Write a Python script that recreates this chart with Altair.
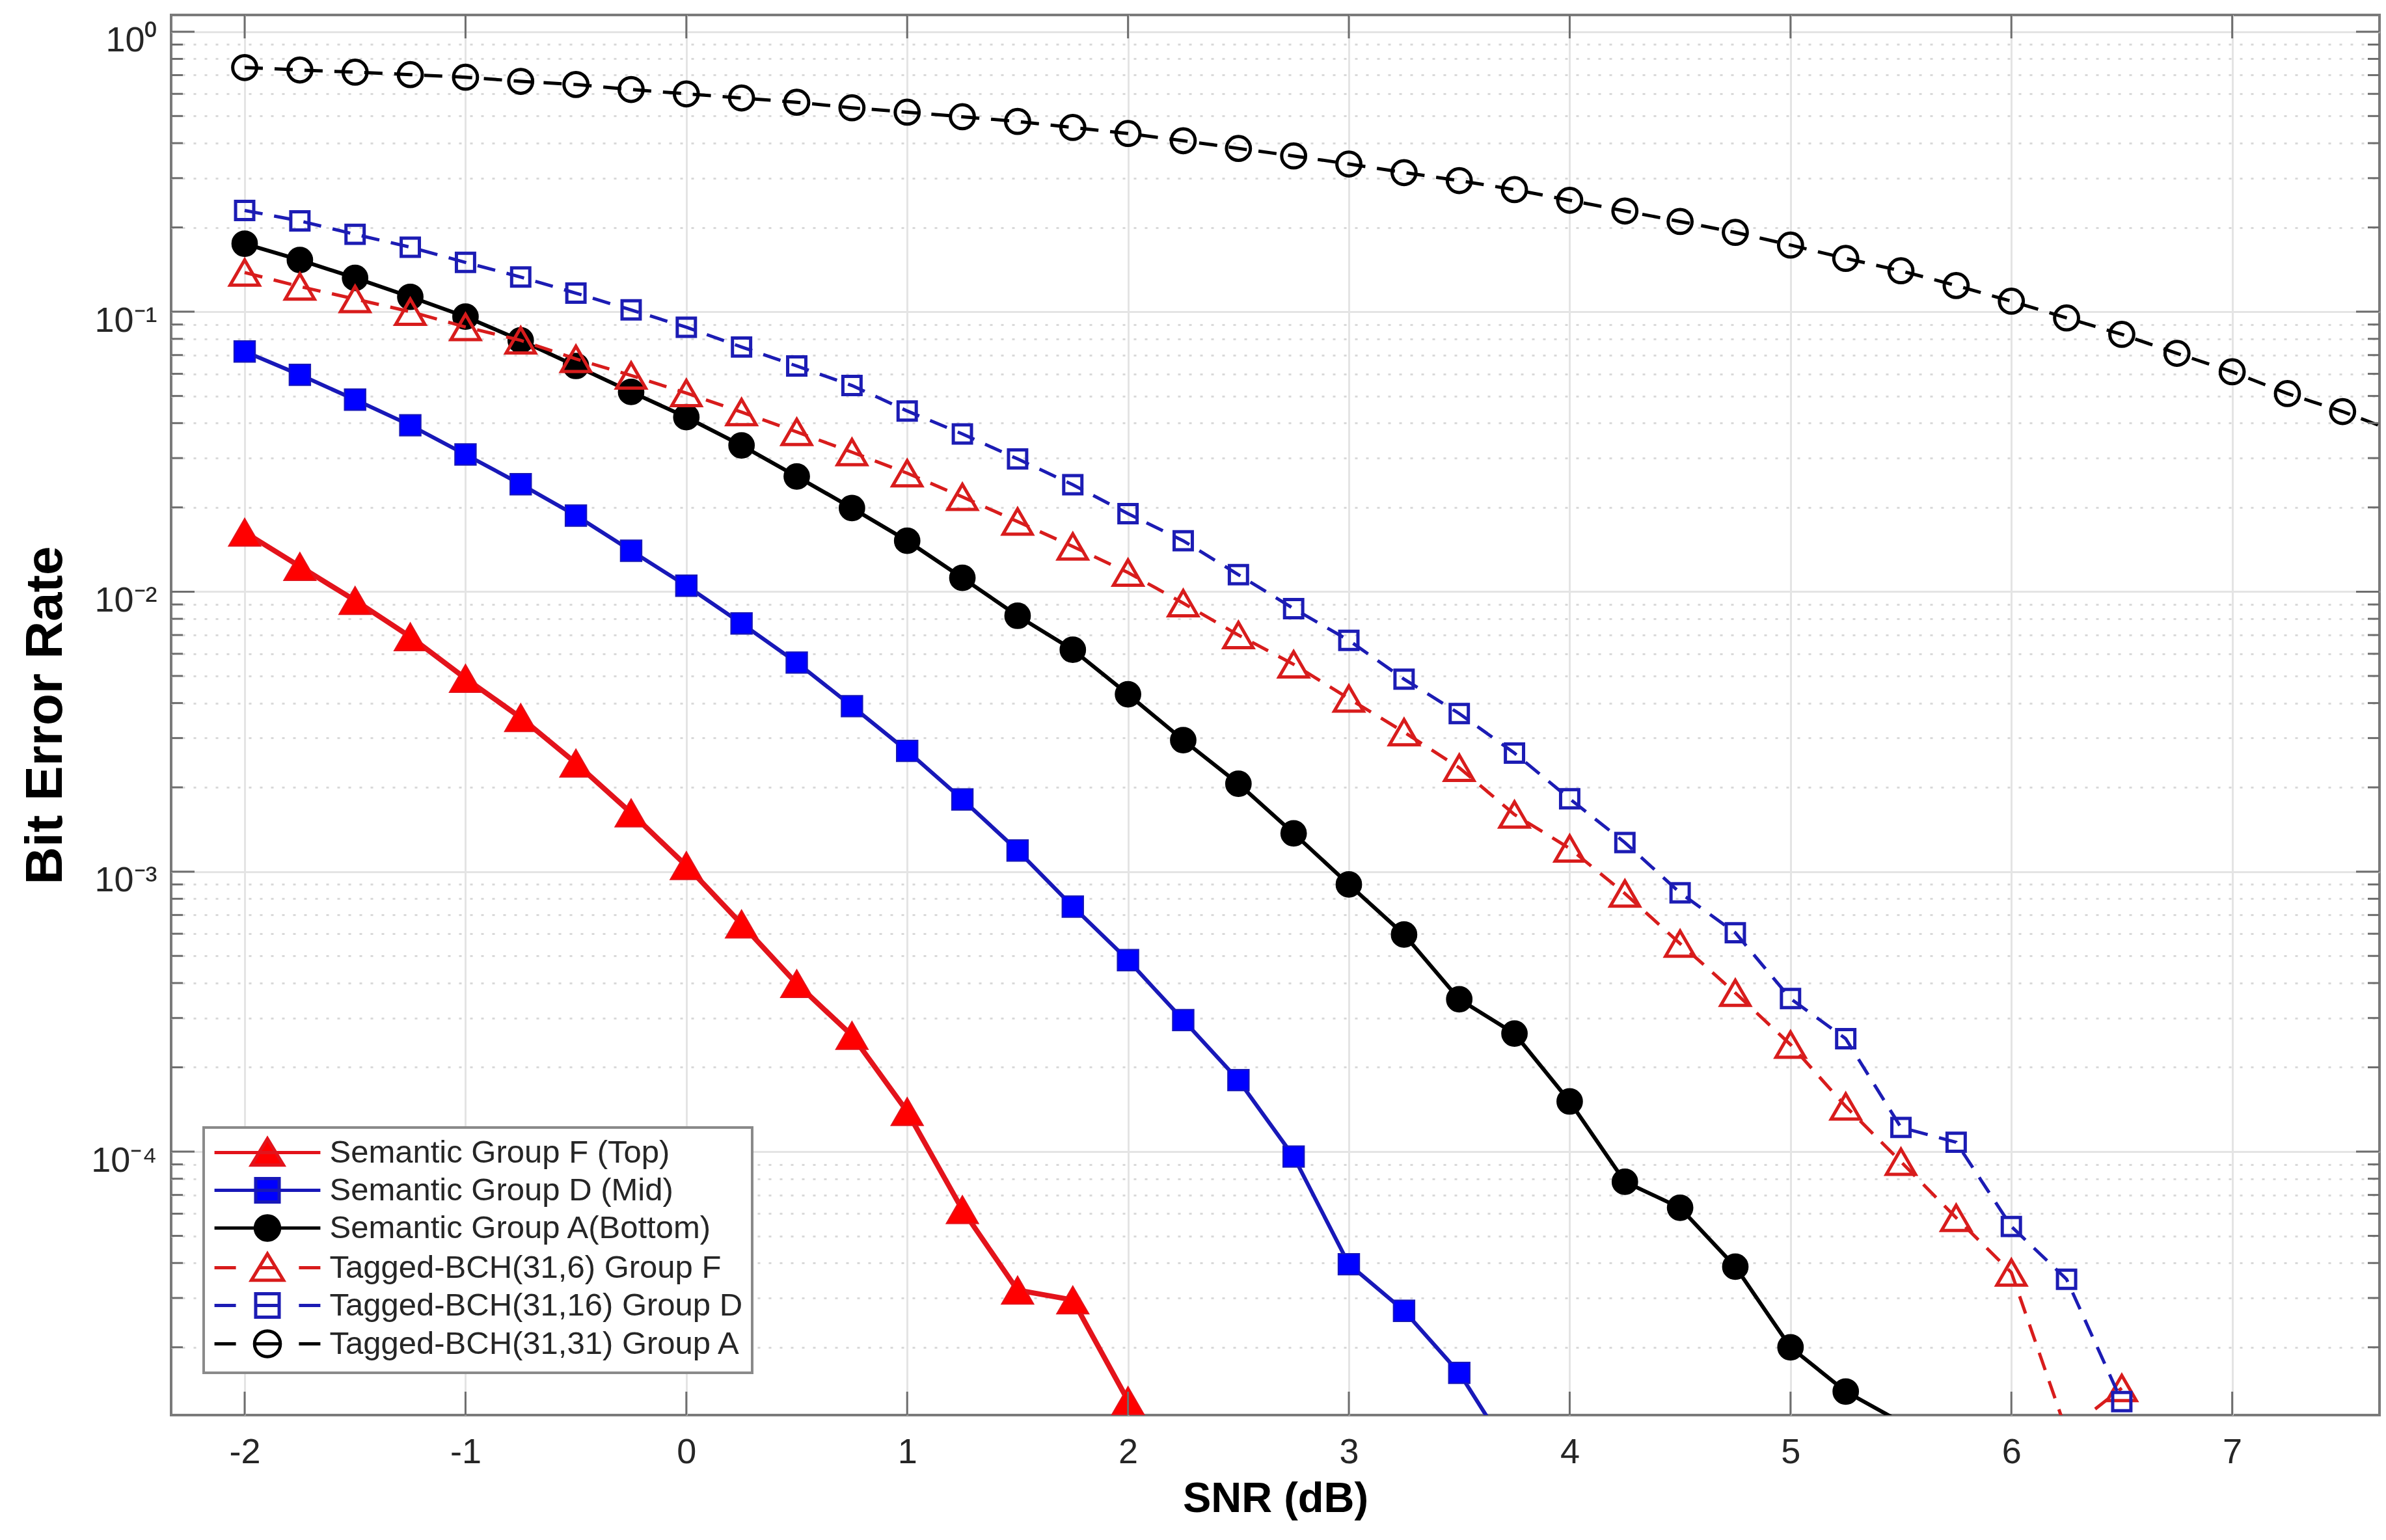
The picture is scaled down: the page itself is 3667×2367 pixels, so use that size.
import altair as alt
import pandas as pd

# ---------------- data ----------------
SNR = [-2.0, -1.75, -1.5, -1.25, -1.0, -0.75, -0.5, -0.25, 0.0, 0.25, 0.5, 0.75,
       1.0, 1.25, 1.5, 1.75, 2.0, 2.25, 2.5, 2.75, 3.0, 3.25, 3.5, 3.75, 4.0,
       4.25, 4.5, 4.75, 5.0, 5.25, 5.5, 5.75, 6.0, 6.25, 6.5, 6.75, 7.0, 7.25,
       7.5, 7.75]

SERIES = ["Semantic Group F (Top)", "Semantic Group D (Mid)", "Semantic Group A(Bottom)",
          "Tagged-BCH(31,6) Group F", "Tagged-BCH(31,16) Group D", "Tagged-BCH(31,31) Group A"]

BER_SEM_F = [0.0163, 0.0123, 0.0093, 0.0069, 0.0049, 0.00355, 0.00244, 0.00162, 0.00105,
             6.5e-4, 3.98e-4, 2.6e-4, 1.39e-4, 6.2e-5, 3.2e-5, 2.95e-5, 1.29e-5]

BER_SEM_D = [0.0721, 0.0595, 0.0485, 0.0393, 0.0309, 0.0242, 0.0187, 0.0140, 0.0105, 0.0077,
             0.00558, 0.0039, 0.0027, 0.00181, 0.00119, 7.5e-4, 4.83e-4, 2.95e-4, 1.8e-4,
             9.6e-5, 3.96e-5, 2.7e-5, 1.62e-5, 7.9e-6]

BER_SEM_A = [0.175, 0.153, 0.132, 0.113, 0.096, 0.079, 0.064, 0.0517, 0.042, 0.0333, 0.0258,
             0.0199, 0.0152, 0.0112, 0.0082, 0.0062, 0.0043, 0.00295, 0.00206, 0.00137,
             9.0e-4, 5.96e-4, 3.5e-4, 2.64e-4, 1.51e-4, 7.8e-5, 6.3e-5, 3.88e-5, 2.0e-5,
             1.39e-5, 1.08e-5]

BER_BCH_F = [0.138, 0.123, 0.111, 0.100, 0.0882, 0.0790, 0.0678, 0.0592, 0.0512, 0.0438,
             0.0372, 0.0315, 0.0265, 0.0218, 0.0178, 0.0145, 0.0117, 0.0091, 0.0070, 0.0055,
             0.00415, 0.00315, 0.00235, 0.0016, 0.00121, 8.35e-4, 5.53e-4, 3.69e-4, 2.41e-4,
             1.45e-4, 9.2e-5, 5.8e-5, 3.7e-5, 1.0e-5, 1.43e-5]

BER_BCH_D = [0.23, 0.211, 0.189, 0.170, 0.150, 0.133, 0.1165, 0.1015, 0.088, 0.0748, 0.064,
             0.0545, 0.0442, 0.0366, 0.0298, 0.0241, 0.019, 0.0152, 0.0115, 0.0087, 0.0067,
             0.00487, 0.00367, 0.00265, 0.00182, 0.00127, 8.4e-4, 6.05e-4, 3.52e-4, 2.53e-4,
             1.22e-4, 1.08e-4, 5.4e-5, 3.5e-5, 1.28e-5]

BER_BCH_A = [0.745, 0.73, 0.717, 0.703, 0.688, 0.665, 0.648, 0.622, 0.600, 0.580, 0.560,
             0.535, 0.516, 0.497, 0.478, 0.455, 0.433, 0.408, 0.383, 0.36, 0.337, 0.314,
             0.294, 0.273, 0.25, 0.229, 0.21, 0.192, 0.173, 0.155, 0.14, 0.124, 0.109,
             0.095, 0.083, 0.071, 0.061, 0.051, 0.044, 0.037]

VALUES = [BER_SEM_F, BER_SEM_D, BER_SEM_A, BER_BCH_F, BER_BCH_D, BER_BCH_A]

X_TICKS = [-2, -1, 0, 1, 2, 3, 4, 5, 6, 7]
Y_DECADES = [1e-4, 1e-3, 1e-2, 1e-1, 1.0]

# ---------------- layout / style ----------------
X_MIN, X_MAX = -2.333, 7.667
Y_MIN, Y_MAX = 1.145e-5, 1.148
W, H = 3394, 2152
FONT = "Liberation Sans"

Y_MINOR = [m * 10.0 ** k for k in range(-5, 0) for m in range(2, 10)
           if Y_MIN <= m * 10.0 ** k <= Y_MAX]
Y_ALL = sorted(Y_DECADES + Y_MINOR)

STYLE = [
    dict(line="#e3131b", fill="#ff0000", shape="triangle-up", size=2400, lw=8, dash=None, filled=True),
    dict(line="#1818b8", fill="#0000ff", shape="square", size=1050, lw=6, dash=None, filled=True),
    dict(line="#000000", fill="#000000", shape="circle", size=1500, lw=6, dash=None, filled=True),
    dict(line="#d81c1c", fill=None, shape="triangle-up", size=2000, lw=5, dash=[28, 18], filled=False),
    dict(line="#1c1cb4", fill=None, shape="square", size=780, lw=5, dash=[28, 18], filled=False),
    dict(line="#000000", fill=None, shape="circle", size=1350, lw=5, dash=[28, 18], filled=False),
]

rows = []
for name, vals in zip(SERIES, VALUES):
    for xv, yv in zip(SNR, vals):
        rows.append({"series": name, "SNR": xv, "BER": yv})
df = pd.DataFrame(rows)

x_scale = alt.Scale(domain=[X_MIN, X_MAX], nice=False, zero=False)
y_scale = alt.Scale(type="log", domain=[Y_MIN, Y_MAX], nice=False)

DEC_TEST = "abs(log(datum.value)/LN10 - round(log(datum.value)/LN10)) < 0.001"
EXP = "(''+round(log(datum.value)/LN10))"
SUP = ("replace(replace(replace(replace(replace(replace(" + EXP +
       ",'-','\u207b'),'0','\u2070'),'1','\u00b9'),'2','\u00b2'),'3','\u00b3'),'4','\u2074')")

x_axis = alt.Axis(
    values=X_TICKS, labelExpr="'' + datum.value", grid=True, gridColor="#e4e4e4", gridWidth=3,
    ticks=False, tickSize=0, domain=False, labelFont=FONT, labelFontSize=54,
    labelColor="#262626", labelBaseline="alphabetic", labelPadding=73, labelFlush=False,
    title="SNR (dB)", titleFont=FONT, titleFontSize=65, titleFontWeight="bold",
    titleColor="#000000", titleBaseline="alphabetic", titleX=W / 2, titleY=148,
)
y_axis = alt.Axis(
    values=Y_ALL, labelExpr=DEC_TEST + " ? '10' + " + SUP + " : ''",
    grid=True,
    gridColor={"condition": {"test": DEC_TEST, "value": "#e4e4e4"}, "value": "#d9d9d9"},
    gridDash={"condition": {"test": DEC_TEST, "value": []}, "value": [4, 13]},
    gridWidth=3, ticks=False, tickSize=0, domain=False, labelOverlap=False,
    labelFont=FONT, labelFontSize=54, labelColor="#262626", labelPadding=22,
    labelBaseline="alphabetic", labelOffset=30, labelFlush=False,
    title="Bit Error Rate", titleFont=FONT, titleFontSize=80, titleFontWeight="bold",
    titleColor="#000000", titleAngle=270, titleBaseline="alphabetic", titleAlign="center",
    titleX=-169, titleY=H / 2,
)

X_ENC = alt.X("SNR:Q", scale=x_scale)
Y_ENC = alt.Y("BER:Q", scale=y_scale)

layers = []
for i, (name, st) in enumerate(zip(SERIES, STYLE)):
    sub = alt.Chart(df).transform_filter(alt.datum.series == name)
    line_kw = dict(color=st["line"], strokeWidth=st["lw"], clip=True)
    if st["dash"]:
        line_kw["strokeDash"] = st["dash"]
    if i == 0:
        xe = alt.X("SNR:Q", scale=x_scale, axis=x_axis)
        ye = alt.Y("BER:Q", scale=y_scale, axis=y_axis)
    else:
        xe, ye = X_ENC, Y_ENC
    line = sub.mark_line(**line_kw).encode(x=xe, y=ye)
    if st["filled"]:
        pt_kw = dict(shape=st["shape"], size=st["size"], filled=True, fill=st["fill"],
                     stroke=st["line"], strokeWidth=2, opacity=1, clip=True)
    else:
        pt_kw = dict(shape=st["shape"], size=st["size"], filled=False, stroke=st["line"],
                     strokeWidth=st["lw"], opacity=1, clip=True)
    pts = sub.transform_filter(
        f"datum.BER >= {Y_MIN} && datum.SNR <= {X_MAX}"
    ).mark_point(**pt_kw).encode(x=X_ENC, y=Y_ENC)
    layers += [line, pts]

# ---------------- inward tick marks ----------------
TICK_C = "#6e6e6e"
xt = alt.Chart(pd.DataFrame({"SNR": X_TICKS}))
for y0, y1 in [(H, H - 36), (0, 36)]:
    layers.append(xt.mark_rule(color=TICK_C, strokeWidth=3).encode(
        x=X_ENC, y=alt.value(y0), y2=alt.value(y1)))
for vals, ln in [(Y_DECADES, 36), (Y_MINOR, 18)]:
    yt = alt.Chart(pd.DataFrame({"BER": vals}))
    for x0, x1 in [(0, ln), (W, W - ln)]:
        layers.append(yt.mark_rule(color=TICK_C, strokeWidth=3).encode(
            y=Y_ENC, x=alt.value(x0), x2=alt.value(x1)))

# ---------------- legend ----------------
SOLID = "M-3.7,0H3.7"
DASHED = "M-3.7,0H-2.2M2.2,0H3.7"
TRI = "M0,-0.97L1.12,0.88L-1.12,0.88Z"
SQ = "M-0.82,-0.82H0.82V0.82H-0.82Z"
CIRC = "M-0.85,0A0.85,0.85,0,1,0,0.85,0A0.85,0.85,0,1,0,-0.85,0Z"
CIRC_O = "M-0.9,0A0.9,0.9,0,1,0,0.9,0A0.9,0.9,0,1,0,-0.9,0Z"
LEG_SHAPES = [
    SOLID + TRI,
    SOLID + SQ,
    SOLID + CIRC,
    DASHED + "M-0.55,0H0.55" + TRI,
    DASHED + "M-0.82,0H0.82" + SQ,
    DASHED + "M-0.9,0H0.9" + CIRC_O,
]
LEG_STROKE = [s["line"] for s in STYLE]
LEG_FILL = ["#ff0000", "#0000ff", "#000000", "#ffffff", "#ffffff", "#ffffff"]

legend = alt.Legend(
    title=None, orient="none", legendX=50, legendY=1710, padding=14,
    fillColor="#ffffff", strokeColor="#8a8a8a", symbolSize=1936, symbolStrokeWidth=5,
    symbolOpacity=1, symbolOffset=59.5, labelOffset=71, labelFont=FONT,
    labelFontSize=49, labelColor="#262626", labelLimit=2000, rowPadding=0,
)
leg_layer = alt.Chart(df).transform_filter("false").mark_point(
    filled=True, opacity=1, size=1936, strokeWidth=5
).encode(
    shape=alt.Shape("series:N", scale=alt.Scale(domain=SERIES, range=LEG_SHAPES), legend=legend),
    stroke=alt.Stroke("series:N", scale=alt.Scale(domain=SERIES, range=LEG_STROKE), legend=legend),
    fill=alt.Fill("series:N", scale=alt.Scale(domain=SERIES, range=LEG_FILL), legend=legend),
)
layers.append(leg_layer)

chart = alt.layer(*layers).properties(
    width=W, height=H,
    autosize=alt.AutoSizeParams(type="none"),
    padding={"left": 263, "top": 23, "right": 10, "bottom": 192},
    background="#ffffff",
).configure_view(stroke="#7a7a7a", strokeWidth=4).configure_legend(strokeWidth=4)

chart.save("out.html", embed_options={"renderer": "svg", "actions": False})
